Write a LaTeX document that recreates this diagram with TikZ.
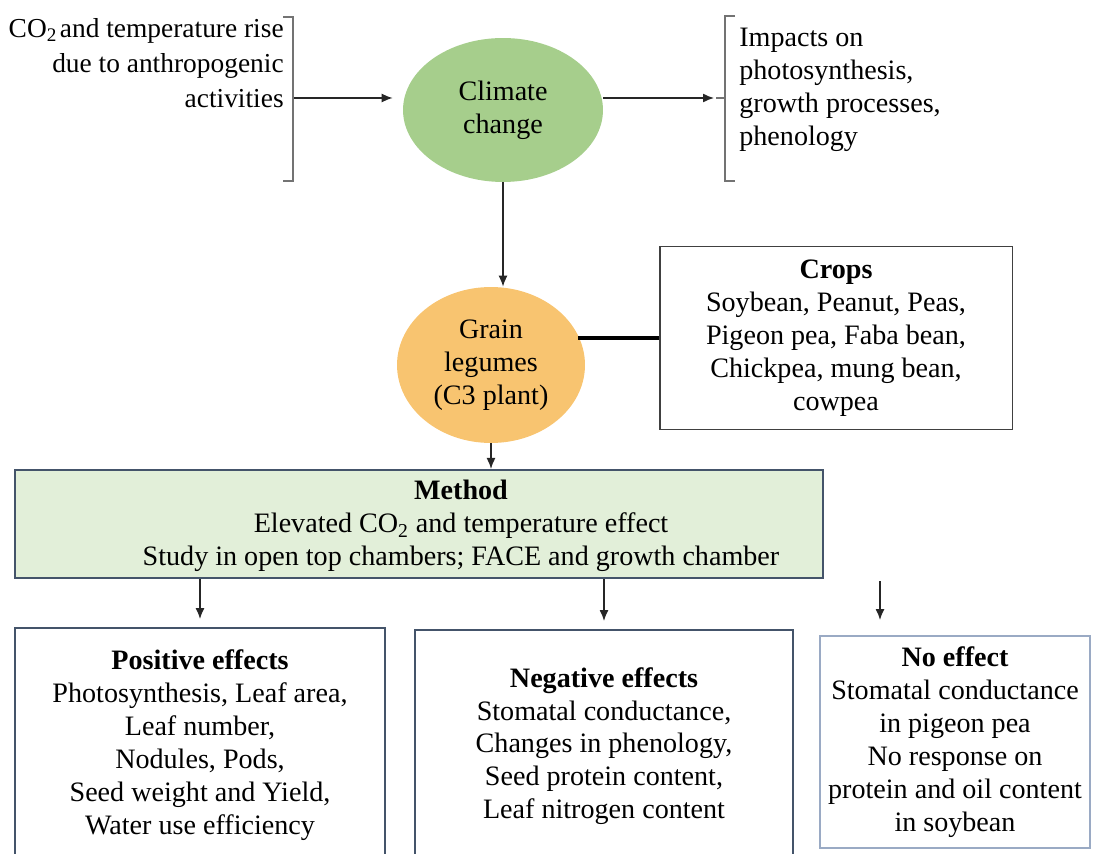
\documentclass[tikz,border=0pt]{standalone}
\usepackage{fontspec}
\setmainfont{Liberation Serif}
\usetikzlibrary{arrows.meta,shapes.geometric}

\definecolor{leafgreen}{HTML}{A6CE8C}
\definecolor{goldish}{HTML}{F8C470}
\definecolor{palegreen}{HTML}{E2EFD9}
\definecolor{slate}{HTML}{44546A}
\definecolor{paleslate}{HTML}{9AAAC4}

\tikzset{
	arr/.style={-{Latex[length=2.2mm,width=1.8mm]}, line width=0.8pt, black!85},
	txt/.style={font=\fontsize{16}{18.7}\selectfont, align=center, inner sep=0pt},
	box/.style={txt, draw, line width=1.1pt, rectangle},
	bracket/.style={line width=0.6pt, black!55},
}

\begin{document}
\begin{tikzpicture}[x=0.02cm, y=-0.02cm]
			\useasboundingbox (0,0) rectangle (1095,854);
			\clip (0,0) rectangle (1095,854);
			% top row
			\node[txt, align=right, anchor=east, font=\fontsize{15.6}{19.8}\selectfont] (cause) at (284,63) {CO\textsubscript{2}\kern1.5pt and temperature rise\\due to anthropogenic\\activities};
			\node[txt, ellipse, fill=leafgreen, minimum width=4cm, minimum height=2.88cm] (climate) at (503,110) {Climate\\change};
			\node[txt, align=left, anchor=west] (impact) at (739,90) {Impacts on\\photosynthesis,\\growth processes,\\phenology};
			\draw[bracket] (283,17) -- (293,17) -- (293,181) -- (283,181);
			\draw[bracket] (735,16) -- (725,16) -- (725,181) -- (735,181);
			\draw[bracket] (725,98) -- (716,98);
			\coordinate (lb) at (294,98);
			\coordinate (rb) at (714,98);
			\draw[arr, shorten >=0.2cm] (lb) -- (climate.west |- lb);
			\draw[arr] (climate.east |- rb) -- (rb);
			% legumes and crops
			\node[txt, ellipse, fill=goldish, minimum width=3.76cm, minimum height=3.12cm] (legume) at (491,365) {Grain\\legumes\\(C3 plant)};
			\node[box, draw=black!75, minimum width=7.06cm, minimum height=3.66cm] (crops) at (836,338) {\textbf{Crops}\\Soybean, Peanut, Peas,\\Pigeon pea, Faba bean,\\Chickpea, mung bean,\\cowpea};
			\draw[arr] (climate.south) -- (climate.south |- legume.north);
			\coordinate (lk) at (578,338);
			\draw[line width=2.2pt] (lk) -- (crops.west);
			% method
			\node[rectangle, draw=slate, fill=palegreen, line width=1.2pt, minimum width=16.16cm, minimum height=2.16cm, inner sep=0pt] (method) at (419,524) {};
			\node[txt] (methodtxt) at (461,526) {\textbf{Method}\\Elevated CO\textsubscript{2} and temperature effect\\Study in open top chambers; FACE and growth chamber};
			\draw[arr] (legume.south) -- (legume.south |- method.north);
			% effects
			\node[box, draw=slate, minimum width=7.4cm, minimum height=4.68cm] (pos) at (200,745) {\textbf{Positive effects}\\Photosynthesis, Leaf area,\\Leaf number,\\Nodules, Pods,\\Seed weight and Yield,\\Water use efficiency};
			\node[box, draw=slate, minimum width=7.56cm, minimum height=4.64cm] (neg) at (604,746) {\textbf{Negative effects}\\Stomatal conductance,\\Changes in phenology,\\Seed protein content,\\Leaf nitrogen content};
			\node[box, draw=paleslate, minimum width=5.4cm, minimum height=4.24cm] (noeff) at (955,742) {\textbf{No effect}\\Stomatal conductance\\in pigeon pea\\No response on\\protein and oil content\\in soybean};
			\coordinate (nf) at (880,581);
			\draw[arr, shorten >=0.16cm] (method.south -| pos.north) -- (pos.north);
			\draw[arr, shorten >=0.16cm] (method.south -| neg.north) -- (neg.north);
			\draw[arr, shorten >=0.3cm] (nf) -- (nf |- noeff.north);
\end{tikzpicture}
\end{document}
